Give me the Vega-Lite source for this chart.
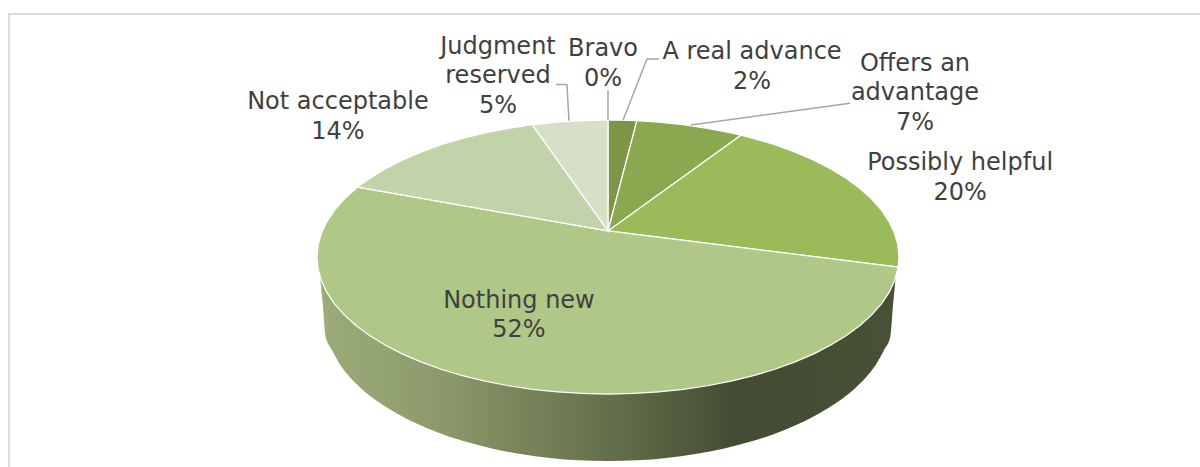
{
"$schema":"https://vega.github.io/schema/vega-lite/v6.json",
"autosize":"none",
"width":1200,"height":467,"padding":0,
"background":"white",
"config":{"view":{"stroke":null}},
"datasets":{
"frame":[{"x":-2.058,"y":-1.533,"i":1},{"x":-2.058,"y":1.774,"i":2},{"x":2.0344,"y":1.774,"i":3}],
"wall":[
{"x":-0.99,"low":-0.139,"up":0},{"x":-0.98,"low":-0.343,"up":0},{"x":-0.97,"low":-0.584,"up":0},{"x":-0.95,"low":-0.674,"up":0},{"x":-0.92,"low":-0.788,"up":0},{"x":-0.9,"low":-0.845,"up":0},{"x":-0.85,"low":-0.956,"up":0},{"x":-0.8,"low":-1.042,"up":0},{"x":-0.75,"low":-1.112,"up":0},{"x":-0.7,"low":-1.172,"up":0},{"x":-0.6,"low":-1.268,"up":0},{"x":-0.5,"low":-1.342,"up":0},{"x":-0.4,"low":-1.397,"up":0},{"x":-0.3,"low":-1.438,"up":0},{"x":-0.2,"low":-1.467,"up":0},{"x":-0.1,"low":-1.484,"up":0},{"x":0,"low":-1.489,"up":0},
{"x":0.1,"low":-1.484,"up":0},{"x":0.2,"low":-1.467,"up":0},{"x":0.3,"low":-1.438,"up":0},{"x":0.4,"low":-1.397,"up":0},{"x":0.5,"low":-1.342,"up":0},{"x":0.6,"low":-1.268,"up":0},{"x":0.7,"low":-1.172,"up":0},{"x":0.75,"low":-1.112,"up":0},{"x":0.8,"low":-1.042,"up":0},{"x":0.85,"low":-0.956,"up":0},{"x":0.9,"low":-0.845,"up":0},{"x":0.92,"low":-0.788,"up":0},{"x":0.95,"low":-0.674,"up":0},{"x":0.97,"low":-0.584,"up":0},{"x":0.98,"low":-0.34,"up":0},{"x":0.99,"low":-0.12,"up":0}
],
"slices":[
{"s":"A real advance","i":0,"x":0,"y":0.19},{"s":"A real advance","i":1,"x":0,"y":1},{"s":"A real advance","i":2,"x":0.0436,"y":0.999},{"s":"A real advance","i":3,"x":0.0993,"y":0.995},
{"s":"Offers an advantage","i":0,"x":0,"y":0.19},{"s":"Offers an advantage","i":1,"x":0.0993,"y":0.995},{"s":"Offers an advantage","i":2,"x":0.1736,"y":0.9848},{"s":"Offers an advantage","i":3,"x":0.2588,"y":0.9659},{"s":"Offers an advantage","i":4,"x":0.342,"y":0.9397},{"s":"Offers an advantage","i":5,"x":0.4226,"y":0.9063},{"s":"Offers an advantage","i":6,"x":0.457,"y":0.889},
{"s":"Possibly helpful","i":0,"x":0,"y":0.19},{"s":"Possibly helpful","i":1,"x":0.457,"y":0.889},{"s":"Possibly helpful","i":2,"x":0.5,"y":0.866},{"s":"Possibly helpful","i":3,"x":0.5736,"y":0.8192},{"s":"Possibly helpful","i":4,"x":0.6428,"y":0.766},{"s":"Possibly helpful","i":5,"x":0.7071,"y":0.7071},{"s":"Possibly helpful","i":6,"x":0.766,"y":0.6428},{"s":"Possibly helpful","i":7,"x":0.8192,"y":0.5736},{"s":"Possibly helpful","i":8,"x":0.866,"y":0.5},{"s":"Possibly helpful","i":9,"x":0.9063,"y":0.4226},{"s":"Possibly helpful","i":10,"x":0.9397,"y":0.342},{"s":"Possibly helpful","i":11,"x":0.9659,"y":0.2588},{"s":"Possibly helpful","i":12,"x":0.9848,"y":0.1736},{"s":"Possibly helpful","i":13,"x":0.9962,"y":0.0872},{"s":"Possibly helpful","i":14,"x":1,"y":0},{"s":"Possibly helpful","i":15,"x":0.9973,"y":-0.0732},
{"s":"Nothing new","i":0,"x":0,"y":0.19},{"s":"Nothing new","i":1,"x":0.9973,"y":-0.0732},{"s":"Nothing new","i":2,"x":0.9848,"y":-0.1736},{"s":"Nothing new","i":3,"x":0.9659,"y":-0.2588},{"s":"Nothing new","i":4,"x":0.9397,"y":-0.342},{"s":"Nothing new","i":5,"x":0.9063,"y":-0.4226},{"s":"Nothing new","i":6,"x":0.866,"y":-0.5},{"s":"Nothing new","i":7,"x":0.8192,"y":-0.5736},{"s":"Nothing new","i":8,"x":0.766,"y":-0.6428},{"s":"Nothing new","i":9,"x":0.7071,"y":-0.7071},{"s":"Nothing new","i":10,"x":0.6428,"y":-0.766},{"s":"Nothing new","i":11,"x":0.5736,"y":-0.8192},{"s":"Nothing new","i":12,"x":0.5,"y":-0.866},{"s":"Nothing new","i":13,"x":0.4226,"y":-0.9063},{"s":"Nothing new","i":14,"x":0.342,"y":-0.9397},{"s":"Nothing new","i":15,"x":0.2588,"y":-0.9659},{"s":"Nothing new","i":16,"x":0.1736,"y":-0.9848},{"s":"Nothing new","i":17,"x":0.0872,"y":-0.9962},{"s":"Nothing new","i":18,"x":0,"y":-1},{"s":"Nothing new","i":19,"x":-0.0872,"y":-0.9962},{"s":"Nothing new","i":20,"x":-0.1736,"y":-0.9848},{"s":"Nothing new","i":21,"x":-0.2588,"y":-0.9659},{"s":"Nothing new","i":22,"x":-0.342,"y":-0.9397},{"s":"Nothing new","i":23,"x":-0.4226,"y":-0.9063},{"s":"Nothing new","i":24,"x":-0.5,"y":-0.866},{"s":"Nothing new","i":25,"x":-0.5736,"y":-0.8192},{"s":"Nothing new","i":26,"x":-0.6428,"y":-0.766},{"s":"Nothing new","i":27,"x":-0.7071,"y":-0.7071},{"s":"Nothing new","i":28,"x":-0.766,"y":-0.6428},{"s":"Nothing new","i":29,"x":-0.8192,"y":-0.5736},{"s":"Nothing new","i":30,"x":-0.866,"y":-0.5},{"s":"Nothing new","i":31,"x":-0.9063,"y":-0.4226},{"s":"Nothing new","i":32,"x":-0.9397,"y":-0.342},{"s":"Nothing new","i":33,"x":-0.9659,"y":-0.2588},{"s":"Nothing new","i":34,"x":-0.9848,"y":-0.1736},{"s":"Nothing new","i":35,"x":-0.9962,"y":-0.0872},{"s":"Nothing new","i":36,"x":-1,"y":0},{"s":"Nothing new","i":37,"x":-0.9962,"y":0.0872},{"s":"Nothing new","i":38,"x":-0.9848,"y":0.1736},{"s":"Nothing new","i":39,"x":-0.9659,"y":0.2588},{"s":"Nothing new","i":40,"x":-0.9397,"y":0.342},{"s":"Nothing new","i":41,"x":-0.9063,"y":0.4226},{"s":"Nothing new","i":42,"x":-0.866,"y":0.5},{"s":"Nothing new","i":43,"x":-0.86,"y":0.5105},
{"s":"Not acceptable","i":0,"x":0,"y":0.19},{"s":"Not acceptable","i":1,"x":-0.86,"y":0.5105},{"s":"Not acceptable","i":2,"x":-0.8192,"y":0.5736},{"s":"Not acceptable","i":3,"x":-0.766,"y":0.6428},{"s":"Not acceptable","i":4,"x":-0.7071,"y":0.7071},{"s":"Not acceptable","i":5,"x":-0.6428,"y":0.766},{"s":"Not acceptable","i":6,"x":-0.5736,"y":0.8192},{"s":"Not acceptable","i":7,"x":-0.5,"y":0.866},{"s":"Not acceptable","i":8,"x":-0.4226,"y":0.9063},{"s":"Not acceptable","i":9,"x":-0.342,"y":0.9397},{"s":"Not acceptable","i":10,"x":-0.2605,"y":0.9655},
{"s":"Judgment reserved","i":0,"x":0,"y":0.19},{"s":"Judgment reserved","i":1,"x":-0.2605,"y":0.9655},{"s":"Judgment reserved","i":2,"x":-0.1736,"y":0.9848},{"s":"Judgment reserved","i":3,"x":-0.0872,"y":0.9962},{"s":"Judgment reserved","i":4,"x":0,"y":1}
],
"leaders":[
{"s":"Judgment reserved","i":0,"x":-0.179,"y":1.26},{"s":"Judgment reserved","i":1,"x":-0.141,"y":1.26},{"s":"Judgment reserved","i":2,"x":-0.134,"y":0.995},
{"s":"Bravo","i":0,"x":0,"y":1.219},{"s":"Bravo","i":1,"x":0,"y":1},
{"s":"A real advance","i":0,"x":0.175,"y":1.445},{"s":"A real advance","i":1,"x":0.134,"y":1.445},{"s":"A real advance","i":2,"x":0.052,"y":1},
{"s":"Offers an advantage","i":0,"x":0.285,"y":0.964},{"s":"Offers an advantage","i":1,"x":0.832,"y":1.122}
],
"labels":[
{"t":"Judgment\nreserved\n5%","x":-0.378,"y":1.533},
{"t":"Bravo\n0%","x":-0.017,"y":1.518},
{"t":"A real advance\n2%","x":0.495,"y":1.496},
{"t":"Offers an\nadvantage\n7%","x":1.055,"y":1.409},
{"t":"Possibly helpful\n20%","x":1.21,"y":0.686},
{"t":"Not acceptable\n14%","x":-0.928,"y":1.131},
{"t":"Nothing new\n52%","x":-0.306,"y":-0.321}
]
},
"encoding":{
"x":{"field":"x","type":"quantitative","axis":null,"scale":{"domain":[-2.0893,2.0344],"nice":false,"zero":false}},
"y":{"field":"y","type":"quantitative","axis":null,"scale":{"domain":[-1.5328,1.8759],"nice":false,"zero":false}}
},
"layer":[
{"data":{"name":"frame"},"mark":{"type":"line","stroke":"#dcdcdc","strokeWidth":2},"encoding":{"order":{"field":"i","type":"quantitative"}}},
{"data":{"name":"wall"},"mark":{"type":"area","interpolate":"monotone","color":{"gradient":"linear","x1":0,"x2":1,"y1":0,"y2":0,"stops":[{"offset":0,"color":"#9bac78"},{"offset":0.2,"color":"#8d9b6c"},{"offset":0.5,"color":"#64704b"},{"offset":0.72,"color":"#434c33"},{"offset":1,"color":"#485035"}]}},
"encoding":{"y":{"field":"low","type":"quantitative"},"y2":{"field":"up"}}},
{"data":{"name":"slices"},"mark":{"type":"line","interpolate":"linear-closed","stroke":"white","strokeWidth":1.25},
"encoding":{"fill":{"field":"s","type":"nominal","legend":null,"scale":{"domain":["A real advance","Offers an advantage","Possibly helpful","Nothing new","Not acceptable","Judgment reserved"],"range":["#7e9446","#8aa850","#9bba59","#afc888","#c3d3a9","#d7e0c7"]}},"order":{"field":"i","type":"quantitative"}}},
{"data":{"name":"leaders"},"mark":{"type":"line","stroke":"#a6a6a6","strokeWidth":1.5},"encoding":{"detail":{"field":"s"},"order":{"field":"i","type":"quantitative"}}},
{"data":{"name":"labels"},"mark":{"type":"text","font":"DejaVu Sans","fontSize":24,"lineHeight":29.5,"lineBreak":"\n","align":"center","baseline":"middle","color":"#404040"},"encoding":{"text":{"field":"t"}}}
]
}
